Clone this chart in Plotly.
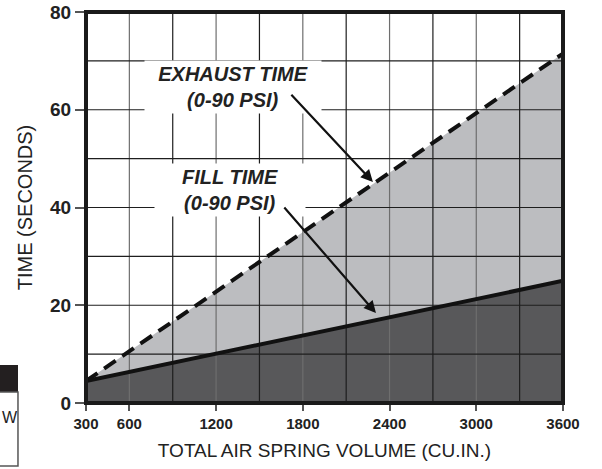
import plotly.graph_objects as go

# ---- data ----
volume = [300, 3600]                 # cu.in.
exhaust_time = [4.5, 71.5]           # seconds
fill_time = [4.5, 25.0]              # seconds

x_tick_vals = [300, 600, 1200, 1800, 2400, 3000, 3600]
x_tick_text = ["300", "600", "1200", "1800", "2400", "3000", "3600"]
x_minor_grid = [900, 1500, 2100, 2700, 3300]
y_tick_vals = [0, 20, 40, 60, 80]
y_minor_grid = [10, 30, 50, 70]

X_RANGE = [300, 3600]
Y_RANGE = [0, 80]

DARK = "#58585a"
LIGHT = "#bcbdc0"
FONT = "Liberation Sans, Arial, sans-serif"

fig = go.Figure()

# fills
fig.add_trace(go.Scatter(x=volume, y=exhaust_time, mode="lines", line=dict(width=0, color=LIGHT),
                         fill="tozeroy", fillcolor=LIGHT, hoverinfo="skip", showlegend=False))
fig.add_trace(go.Scatter(x=volume, y=fill_time, mode="lines", line=dict(width=0, color=DARK),
                         fill="tozeroy", fillcolor=DARK, hoverinfo="skip", showlegend=False))

# grid lines drawn above fills
for gx in x_tick_vals[1:-1]:
    fig.add_trace(go.Scatter(x=[gx, gx], y=Y_RANGE, mode="lines", line=dict(color="#6e6e6e", width=1.2),
                             hoverinfo="skip", showlegend=False))
for gx in x_minor_grid:
    fig.add_trace(go.Scatter(x=[gx, gx], y=Y_RANGE, mode="lines", line=dict(color="#1e1e1e", width=1.2),
                             hoverinfo="skip", showlegend=False))
for gy in y_tick_vals[1:-1] + y_minor_grid:
    fig.add_trace(go.Scatter(x=X_RANGE, y=[gy, gy], mode="lines", line=dict(color="#1e1e1e", width=1.2),
                             hoverinfo="skip", showlegend=False))

# data lines
fig.add_trace(go.Scatter(x=volume, y=exhaust_time, mode="lines",
                         line=dict(color="#111111", width=4, dash="14px,8px"),
                         showlegend=False, name="Exhaust time"))
fig.add_trace(go.Scatter(x=volume, y=fill_time, mode="lines",
                         line=dict(color="#111111", width=4),
                         showlegend=False, name="Fill time"))

# labels
fig.add_annotation(x=1317, y=64.7, xref="x", yref="y", showarrow=False,
                   text="<b><i>EXHAUST TIME<br>(0-90 PSI)</i></b>",
                   font=dict(family=FONT, size=20, color="#222222"),
                   bgcolor="white", width=172, borderpad=2, align="center")
fig.add_annotation(x=1296, y=43.6, xref="x", yref="y", showarrow=False,
                   text="<b><i>FILL TIME<br>(0-90 PSI)</i></b>",
                   font=dict(family=FONT, size=20, color="#222222"),
                   bgcolor="white", width=146, borderpad=2, align="center")

# arrows
fig.add_annotation(x=2285, y=45.2, ax=1711, ay=63.4, xref="x", yref="y", axref="x", ayref="y",
                   text="", showarrow=True, arrowhead=2, arrowsize=1.1, arrowwidth=2.2, arrowcolor="#111111")
fig.add_annotation(x=2306, y=18.4, ax=1663, ay=40.3, xref="x", yref="y", axref="x", ayref="y",
                   text="", showarrow=True, arrowhead=2, arrowsize=1.1, arrowwidth=2.2, arrowcolor="#111111")

# plot border
fig.add_shape(type="rect", xref="paper", yref="paper", x0=0, y0=0, x1=1, y1=1,
              line=dict(color="#1a1a1a", width=4), layer="above")

# partial table fragment at bottom-left (outside plot)
fig.add_shape(type="rect", xref="paper", yref="paper", x0=-0.2, x1=-0.1426, y0=0.0281, y1=0.0972,
              fillcolor="#231f20", line=dict(width=0))
fig.add_shape(type="rect", xref="paper", yref="paper", x0=-0.2, x1=-0.1426, y0=-0.161, y1=0.0281,
              fillcolor="white", line=dict(color="#555555", width=1.5))
fig.add_annotation(x=-0.1803, y=-0.064, xref="paper", yref="paper", xanchor="left", showarrow=False,
                   text="W", font=dict(family=FONT, size=16, color="#222222"))

fig.update_xaxes(range=X_RANGE, tickmode="array", tickvals=x_tick_vals, ticktext=x_tick_text,
                 showgrid=False, zeroline=False, showline=False, automargin=False,
                 ticks="outside", ticklen=7, tickwidth=1.5, tickcolor="#555555",
                 tickfont=dict(family=FONT, size=15, color="#222222", weight="bold"),
                 title=dict(text="TOTAL AIR SPRING VOLUME (CU.IN.)",
                            font=dict(family=FONT, size=19, color="#222222"), standoff=12))
fig.update_yaxes(range=Y_RANGE, tickmode="array", tickvals=y_tick_vals,
                 showgrid=False, zeroline=False, showline=False, automargin=False,
                 ticks="outside", ticklen=10, tickwidth=1.5, tickcolor="#555555",
                 tickfont=dict(family=FONT, size=19, color="#222222", weight="bold"),
                 title=dict(text="TIME (SECONDS)",
                            font=dict(family=FONT, size=20, color="#222222"), standoff=12))

fig.update_layout(width=602, height=469, margin=dict(l=86, r=39, t=12, b=66),
                  plot_bgcolor="white", paper_bgcolor="white")

fig.write_html("out.html", config={"displayModeBar": False},
               post_script="document.body.style.margin='0';document.body.style.overflow='hidden';")
